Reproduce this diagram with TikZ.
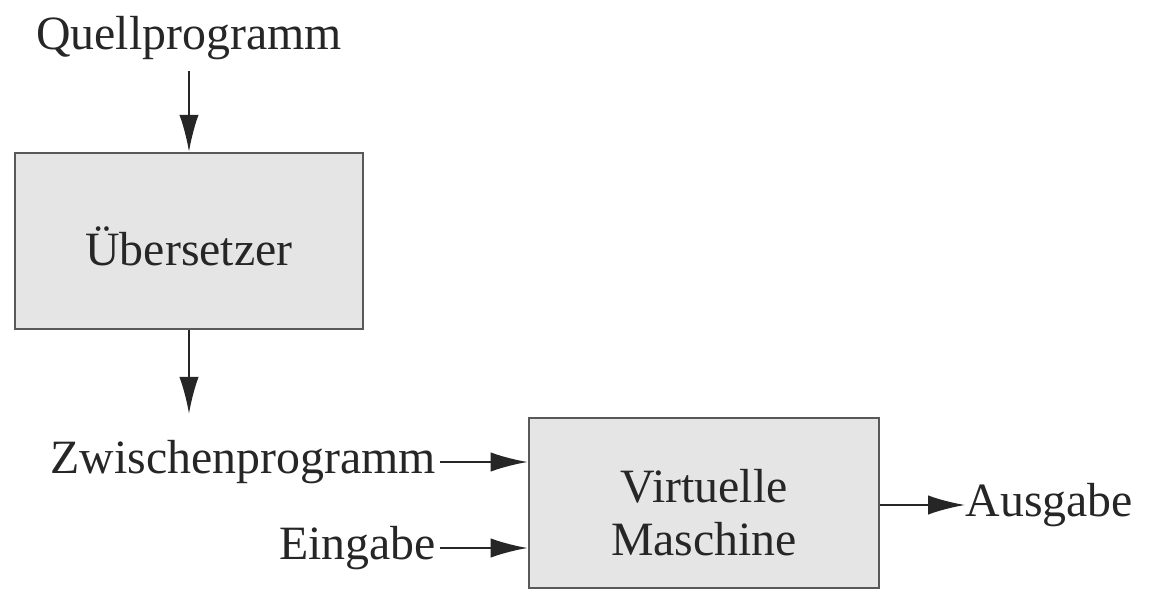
\documentclass[tikz,border=0pt]{standalone}
\usepackage{fontspec}
\setmainfont{Liberation Serif}
\usetikzlibrary{arrows.meta}

\begin{document}
\begin{tikzpicture}[x=0.01cm,y=-0.01cm,font=\fontsize{13.6}{15}\selectfont]
% Diagram style
\tikzset{
    block/.style={draw=black!65,fill=black!10,line width=0.7pt,
        minimum width=3.48cm,minimum height=1.76cm,inner sep=0pt,
        align=center,text=black!85},
    io/.style={inner xsep=1pt,inner ysep=3pt,text=black!85},
    flow/.style={-{Latex[length=10.5pt,width=5.5pt]},line width=0.6pt,black!85}
}
\useasboundingbox (0,0) rectangle (1151,591);
% Blocks
\node[io] (quell) at (189,38){Quellprogramm};
\node[block] (uebers) at (189,241){\rule{0pt}{14pt}Übersetzer};
\node[io,anchor=east] (zwisch) at (440,462){Zwischenprogramm};
\node[io,anchor=east] (ein) at (440,548){Eingabe};
\node[block,minimum width=3.5cm,minimum height=1.7cm] (vm) at (704,503){\rule{0pt}{15pt}Virtuelle\\Maschine};
\node[io,anchor=west,inner xsep=0pt] (aus) at (965,505){Ausgabe};
% Connection
\draw[flow] (quell) -- (uebers);
\draw[flow,shorten >=4.3pt] (uebers) -- (uebers |- zwisch.north);
\draw[flow] (zwisch) -- (zwisch -| vm.west);
\draw[flow] (ein) -- (ein -| vm.west);
\draw[flow] (vm.east |- aus.west) -- (aus.west);
\end{tikzpicture}
\end{document}
